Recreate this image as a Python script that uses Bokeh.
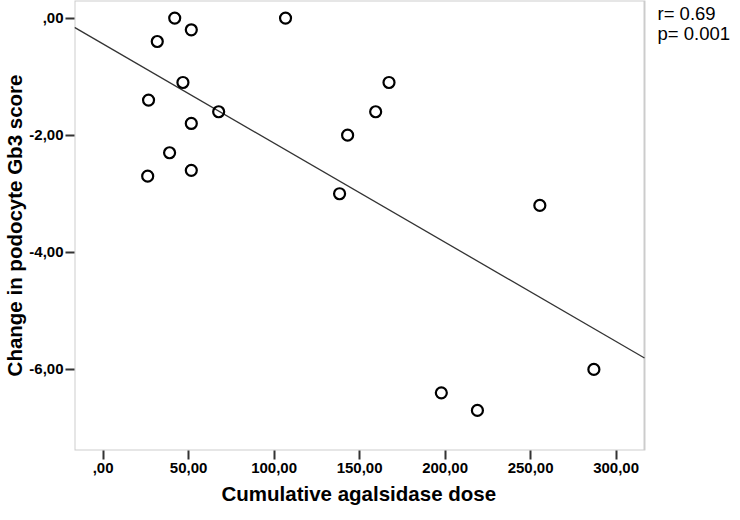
import numpy as np
from bokeh.plotting import figure
from bokeh.models import Range1d, FixedTicker, Label, BoxAnnotation, Title
from bokeh.embed import file_html
from bokeh.resources import INLINE

# data
dose = [41.9, 51.6, 31.7, 46.7, 26.6, 67.6, 51.6, 38.9, 26.1, 51.6,
        106.7, 167.2, 159.4, 143.0, 138.3, 255.4, 287.0, 197.8, 218.9]
change = [0.0, -0.2, -0.4, -1.1, -1.4, -1.6, -1.8, -2.3, -2.7, -2.6,
          0.0, -1.1, -1.6, -2.0, -3.0, -3.2, -6.0, -6.4, -6.7]

x_ticks = [0, 50, 100, 150, 200, 250, 300]
x_tick_labels = [",00", "50,00", "100,00", "150,00", "200,00", "250,00", "300,00"]
y_ticks = [0, -2, -4, -6]
y_tick_labels = [",00", "-2,00", "-4,00", "-6,00"]

x_title = "Cumulative agalsidase dose"
y_title = "Change in podocyte Gb3 score"
stats_text = ["r= 0.69", "p= 0.001"]

x_lo, x_hi = -16.7, 316.6
y_lo, y_hi = -7.385, 0.30

BOX_W = 570      # width of the drawn plot box
FRAME_W = 656    # frame extends to the right to hold the statistics text
x_view_hi = x_lo + (x_hi - x_lo) * FRAME_W / BOX_W

FONT = "Liberation Sans"

p = figure(frame_width=FRAME_W, frame_height=450,
           x_range=Range1d(x_lo, x_view_hi), y_range=Range1d(y_lo, y_hi),
           output_backend="svg", toolbar_location=None,
           min_border_left=68, min_border_right=0, min_border_top=0,
           min_border_bottom=0)

p.xgrid.visible = False
p.ygrid.visible = False
p.outline_line_color = None
p.background_fill_color = "white"

p.add_layout(BoxAnnotation(left=x_lo, right=x_hi, bottom=y_lo, top=y_hi,
                           fill_alpha=0, line_color="#555555", line_width=2))

# regression line computed from the data
slope, intercept = np.polyfit(dose, change, 1)
xs = np.array([x_lo, x_hi])
p.line(xs, intercept + slope * xs, line_color="#333333", line_width=1.3)

p.scatter(dose, change, marker="circle", size=11, fill_color=None,
          line_color="black", line_width=2.2)

for ax, ticks, labels in [(p.xaxis[0], x_ticks, x_tick_labels),
                          (p.yaxis[0], y_ticks, y_tick_labels)]:
    ax.ticker = FixedTicker(ticks=ticks)
    ax.major_label_overrides = {t: l for t, l in zip(ticks, labels)}
    ax.minor_tick_line_color = None
    ax.major_tick_in = 0
    ax.major_tick_out = 9
    ax.major_tick_line_color = "#333333"
    ax.major_tick_line_width = 2
    ax.axis_line_color = None
    ax.major_label_text_font = FONT
    ax.major_label_text_font_style = "bold"
    ax.major_label_text_font_size = "15px"
    ax.major_label_text_color = "black"

p.yaxis[0].axis_label = y_title
p.yaxis[0].axis_label_text_font = FONT
p.yaxis[0].axis_label_text_font_style = "bold"
p.yaxis[0].axis_label_text_font_size = "20.5px"
p.yaxis[0].axis_label_text_color = "black"
p.yaxis[0].major_label_standoff = 2
p.yaxis[0].axis_label_standoff = 0
p.xaxis[0].major_label_standoff = 3

# x-axis title centred under the drawn box (not the wider frame)
p.add_layout(Title(text=x_title, align="left", offset=147,
                   text_font=FONT, text_font_style="bold",
                   text_font_size="20.5px", text_color="black",
                   standoff=8), "below")

for i, t in enumerate(stats_text):
    p.add_layout(Label(x=x_hi, y=y_hi, x_offset=13, y_offset=-2 - 20 * i,
                       text=t, text_font=FONT,
                       text_font_size="18.5px", text_baseline="top",
                       text_color="black"))

open("out.html", "w").write(file_html(p, INLINE))
